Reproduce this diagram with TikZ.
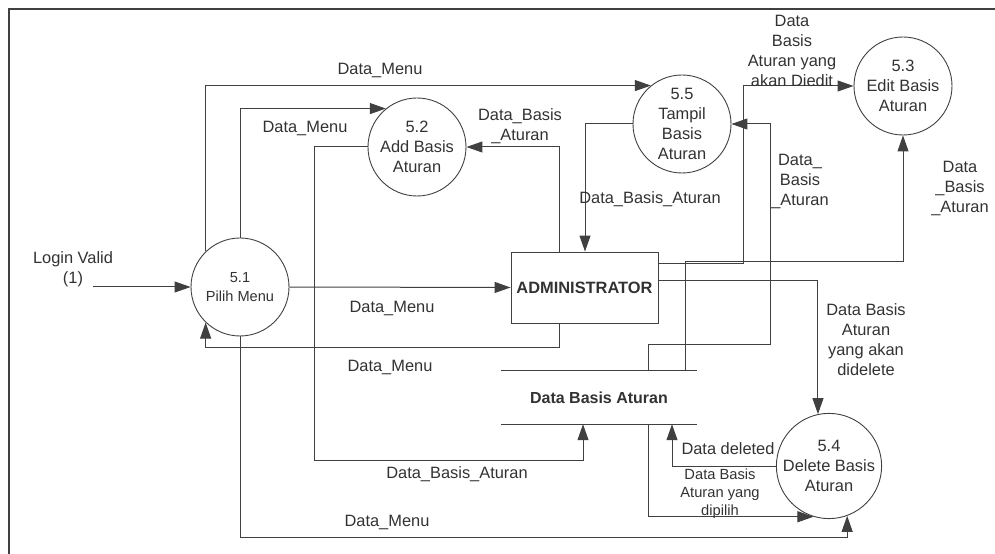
\documentclass[tikz,border=0pt]{standalone}
\usepackage{fontspec}
\setmainfont{Liberation Sans}
\usetikzlibrary{arrows.meta}
\definecolor{ink}{RGB}{64,64,64}
\definecolor{txt}{RGB}{50,50,50}
\begin{document}
\begin{tikzpicture}[x=1bp,y=-1bp,
  flow/.style={draw=ink,line width=1bp,-{Triangle[length=16bp,width=11bp]}},
  proc/.style={circle,draw=ink,line width=0.9bp,minimum size=98bp,inner sep=0pt,
    align=center,text=txt,font=\fontsize{16.4bp}{20bp}\selectfont},
  lbl/.style={inner sep=0pt,align=center,text=txt,font=\fontsize{16.4bp}{20bp}\selectfont},
  small/.style={inner sep=0pt,align=center,text=txt,font=\fontsize{14.7bp}{18bp}\selectfont}]
\useasboundingbox (0,0) rectangle (995,554);
% outer frame
\draw[ink,line width=2bp] (9,554) -- (9,9) -- (995,9);

% processes
\node[proc,font=\fontsize{14.6bp}{19bp}\selectfont] (p51) at (240,287) {5.1\\Pilih Menu};
\node[proc] (p52) at (417,147) {5.2\\Add Basis\\Aturan};
\node[proc] (p55) at (682,124) {5.5\\Tampil\\Basis\\Aturan};
\node[proc] (p53) at (903,86) {5.3\\Edit Basis\\Aturan};
\node[proc] (p54) at (829,466) {5.4\\Delete Basis\\Aturan};

% external entity
\node[draw=ink,line width=0.9bp,minimum width=147bp,minimum height=71bp,inner sep=0pt,
  text=txt,font=\bfseries\fontsize{16.4bp}{20bp}\selectfont] (admin) at (584.5,287.5) {ADMINISTRATOR};

% data store
\node[minimum width=196bp,minimum height=53bp,inner sep=0pt,text=txt,
  font=\bfseries\fontsize{16bp}{20bp}\selectfont] (store) at (599,397.5) {Data Basis Aturan};
\draw[ink,line width=1bp] (store.north west) -- (store.north east);
\draw[ink,line width=1bp] (store.south west) -- (store.south east);

% flows
\coordinate (login) at (93,287);
\draw[flow] (login) -- (p51.west);
\node[lbl] at (73,269) {Login Valid\\(1)};

\draw[flow] (p51.east) -- (admin.west);
\node[lbl] at (392,308) {Data\_Menu};

\draw[flow] (p51.134) |- (p55.129);
\node[lbl] at (380,70) {Data\_Menu};

\draw[flow] (p51.north) |- (p52.129);
\node[lbl] at (305,128) {Data\_Menu};

\draw[flow] (p52.west) -| (314,460) -| (store.south -| 583,0);
\node[lbl] at (457,474) {Data\_Basis\_Aturan};

\draw[flow] (admin.north -| 559,0) |- (p52.east);
\node[lbl] at (520,126) {Data\_Basis\\\_Aturan};

\draw[flow] (p55.west) -| (admin.north -| 585,0);
\node[lbl] at (650,199) {Data\_Basis\_Aturan};

\draw[flow] (admin.east |- 0,264) -- (743,264) |- (p53.west);
\node[lbl] at (792,50.5) {Data\\Basis\\Aturan yang\\akan Diedit};

\draw[flow] (store.north -| 685,0) -- (685,262) -| (p53.south);
\node[lbl] at (960,188) {Data\\\_Basis\\\_Aturan};

\draw[flow] (store.north -| 648,0) |- (770,345) |- (p55.east);
\node[lbl] at (800,181) {Data\_\\Basis\\\_Aturan};

\draw[flow] (admin.east |- 0,281) -| (p54.102);
\node[lbl] at (866,339.5) {Data Basis\\Aturan\\yang akan\\didelete};

\draw[flow] (admin.south -| 559,0) -- (559,348) -| (p51.226);
\node[lbl] at (390,367) {Data\_Menu};

\draw[flow] (p54.west) -| (store.south -| 672,0);
\node[lbl] at (728,449) {Data deleted};

\draw[flow] (store.south -| 648,0) |- (p54.253);
\node[small] at (720,494) {Data Basis\\Aturan yang\\dipilih};

\draw[flow] (p51.south) -- (240,537) -| (p54.290);
\node[lbl] at (387,522) {Data\_Menu};
\end{tikzpicture}
\end{document}
